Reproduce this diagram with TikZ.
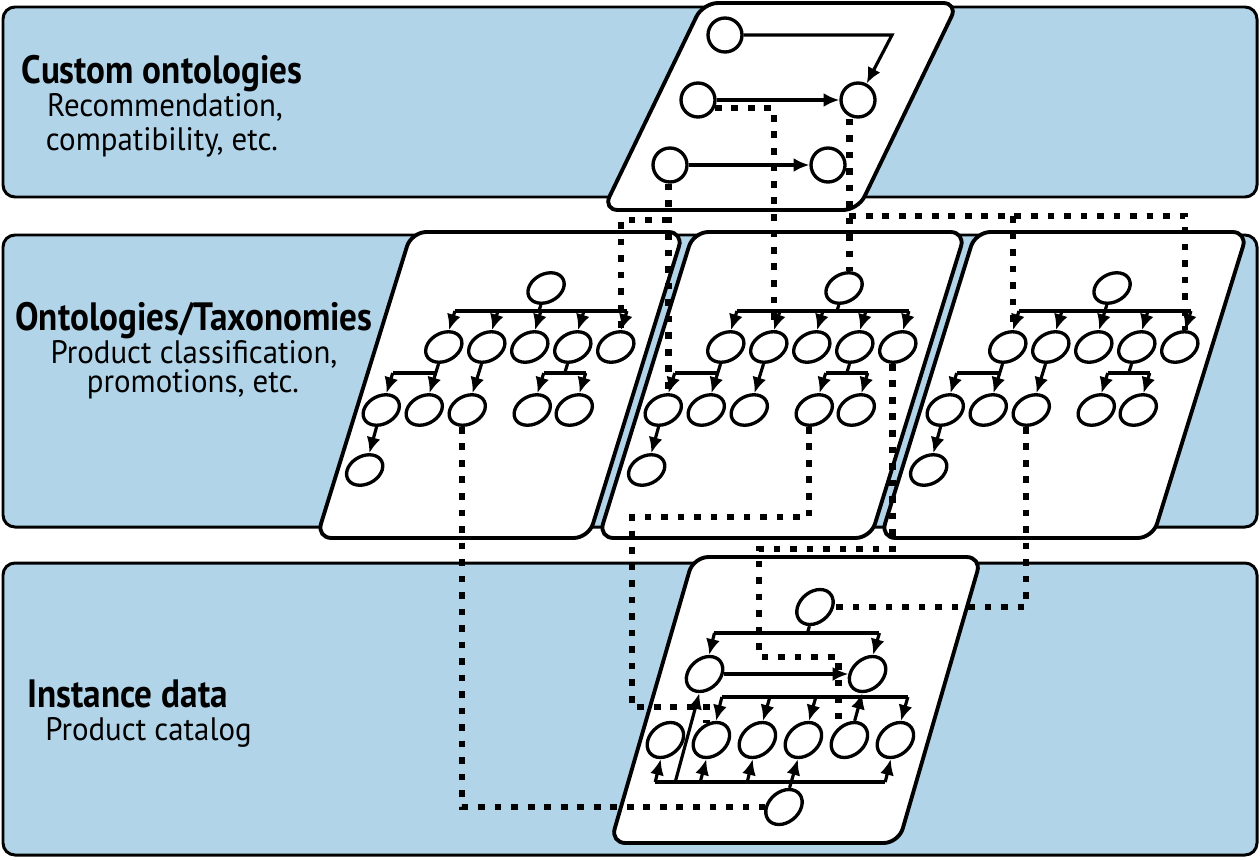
\documentclass[tikz,border=0pt]{standalone}
\usepackage{fontspec}
\setmainfont{PT Sans}[FakeStretch=0.95]
\newfontfamily\headfont{PT Sans}[FakeStretch=0.89]
\usepackage{xcolor}
\usepackage{tikz}
\usetikzlibrary{arrows.meta, calc, shapes.geometric}
\definecolor{bandblue}{RGB}{177,212,233}
\tikzstyle{band} = [draw=black, line width=1.7pt, fill=bandblue, rounded corners=0.24cm]
\tikzstyle{panel} = [draw=black, line width=2.2pt, fill=white, rounded corners=0.3cm]
\tikzstyle{obj} = [draw=black, line width=1.9pt, circle, inner sep=0pt, minimum size=0.68cm]
\tikzstyle{cls} = [draw=black, line width=1.9pt, ellipse, inner sep=0pt, minimum width=0.7cm, minimum height=0.61cm]
\tikzstyle{link} = [line width=1.8pt]
\tikzstyle{arrow} = [link, -{Latex[length=9pt, width=8pt]}]
\tikzstyle{dots} = [line width=3.8pt, dash pattern=on 3.8pt off 5.6pt]
\tikzstyle{title} = [font=\fontsize{22.5}{24}\selectfont\headfont\bfseries, anchor=base, inner sep=0pt]
\tikzstyle{sub} = [font=\fontsize{18.5}{20}\selectfont, anchor=base, inner sep=0pt]

\begin{document}
\begin{tikzpicture}[x=0.02cm, y=-0.02cm]
\useasboundingbox (0,0) rectangle (1260,859);

% Layers
\draw [band] (3,7) rectangle (1257,197);
\draw [band] (3,235) rectangle (1257,527);
\draw [band] (3,563) rectangle (1257,855);

% Labels
\node [title] (custom) at (162,83) {Custom ontologies};
\node [sub] (custom1) at (165,116) {Recommendation,};
\node [sub] (custom2) at (162,150) {compatibility, etc.};
\node [title] (onto) at (194,330) {Ontologies/Taxonomies};
\node [sub] (onto1) at (194,363) {Product classification,};
\node [sub] (onto2) at (193,392) {promotions, etc.};
\node [title, anchor=base west] (inst) at (27,707) {Instance data};
\node [sub, anchor=base west] (inst1) at (45,740) {Product catalog};

% Custom ontologies
\draw [panel] (603,210) -- (858,210) -- (958,3) -- (703,3) -- cycle;
\node [obj] (c1) at (725,35) {};
\node [obj] (c2) at (698,100) {};
\node [obj] (c3) at (858,100) {};
\node [obj] (c4) at (670,165) {};
\node [obj] (c5) at (828,165) {};
\coordinate (c1turn) at (892,35);
\draw [arrow] (c1) -- (c1turn) -- (c3);
\draw [arrow] (c2) -- (c3);
\draw [arrow] (c4) -- (c5);

% Taxonomies
\foreach \p/\cx/\ro in {1/500/16, 2/782/32, 3/1064/18} {
\begin{scope}[shift={(\cx,385)}, xslant=0.31, transform shape]
\draw [panel] (-136,153) -- (136,153) -- (136,-153) -- (-136,-153) -- cycle;
\node [cls] (t\p-r) at (\ro,-97) {};
\coordinate (t\p-jr) at (\ro,-74);
\foreach \i/\xu in {1/-68, 2/-25, 3/18, 4/61, 5/104} {
  \node [cls] (t\p-a\i) at (\xu,-38) {};
  \coordinate (t\p-j\i) at (\xu,-74);
  \draw [arrow] (t\p-j\i) -- (t\p-a\i);
}
\draw [link] (t\p-r) -- (t\p-jr);
\draw [link] (t\p-j1) -- (t\p-j5);
\foreach \i/\xu in {1/-111, 2/-68, 3/-25, 4/40, 5/82}
  \node [cls] (t\p-b\i) at (\xu,25) {};
\node [cls] (t\p-c1) at (-109,85) {};
\coordinate (t\p-k1) at (-111,-12);
\coordinate (t\p-k2) at (-68,-12);
\coordinate (t\p-k3) at (61,-12);
\coordinate (t\p-k4) at (40,-12);
\coordinate (t\p-k5) at (82,-12);
\draw [link] (t\p-k2) -- (t\p-k1);
\draw [arrow] (t\p-a1) -- (t\p-b2);
\draw [arrow] (t\p-k1) -- (t\p-b1);
\draw [arrow] (t\p-a2) -- (t\p-b3);
\draw [link] (t\p-a4) -- (t\p-k3);
\draw [link] (t\p-k4) -- (t\p-k5);
\draw [arrow] (t\p-k4) -- (t\p-b4);
\draw [arrow] (t\p-k5) -- (t\p-b5);
\draw [arrow] (t\p-b1) -- (t\p-c1);
\end{scope}
}

% Instance data
\begin{scope}[shift={(796,700)}, xslant=0.29, transform shape]
\draw [panel] (-144,143) -- (144,143) -- (144,-143) -- (-144,-143) -- cycle;
\node [obj, minimum size=0.7cm] (i-r) at (-8,-93) {};
\node [obj, minimum size=0.7cm] (i-a1) at (-99,-26) {};
\node [obj, minimum size=0.7cm] (i-a2) at (64,-26) {};
\foreach \i/\xu in {1/-119, 2/-73, 3/-27, 4/19, 5/65, 6/111}
  \node [obj, minimum size=0.7cm] (i-b\i) at (\xu,40) {};
\node [obj, minimum size=0.7cm] (i-s) at (19,107) {};
% top bar
\coordinate (i-jr) at (-8,-67);
\coordinate (i-j1) at (-101,-67);
\coordinate (i-j2) at (64,-67);
\draw [link] (i-r) -- (i-jr);
\draw [link] (i-j1) -- (i-j2);
\draw [arrow] (i-j1) -- (i-a1);
\draw [arrow] (i-j2) -- (i-a2);
\draw [arrow] (i-a1) -- (i-a2);
% middle bar
\foreach \i/\xu in {2/-75, 3/-27, 4/19, 6/111} {
  \coordinate (i-m\i) at (\xu,-3);
  \draw [arrow] (i-m\i) -- (i-b\i);
}
\draw [link] (i-m2) -- (i-m6);
\draw [arrow] (i-b5) -- (i-a2);
% bottom bar
\foreach \i/\xu in {1/-117, 2/-72, 3/-25, 6/113} {
  \coordinate (i-n\i) at (\xu,82);
  \draw [arrow] (i-n\i) -- (i-b\i);
}
\coordinate (i-n0) at (-97,82);
\draw [link] (i-n1) -- (i-n6);
\draw [arrow] (i-n0) -- (i-a1);
\draw [arrow] (i-s) -- (i-b4);
\end{scope}

% Mappings
\draw [dots] (c2.-25) -| (t2-a2.north);
\draw [dots] (t2-r.north |- c3.south) -- (t2-r.north);
\coordinate (j3) at (t2-r.north |- 0,216);
\draw [dots] (j3) -| (t3-a5.north);
\draw [dots] (t3-a1.north |- j3) -- (t3-a1.north);
\draw [dots] (t2-b1.north |- c4.south) -- (t2-b1.north);
\draw [dots] (t2-b1.north |- 0,220) -| (t1-a5.north);

\draw [dots] (t1-b3.south) |- (i-s.west);
\coordinate (k5a) at (632,517);
\coordinate (k5b) at (i-b2.120 |- 0,707);
\draw [dots] (t2-b4.south) |- (k5a) |- (k5b) -- (i-b2.120);
\coordinate (k6a) at (759,549);
\coordinate (k6b) at (i-b5.140 |- 0,657);
\draw [dots] (t2-a5.south) |- (k6a) |- (k6b) -- (i-b5.140);
\draw [dots] (t3-b3.south) |- (i-r.east);

\end{tikzpicture}
\end{document}
